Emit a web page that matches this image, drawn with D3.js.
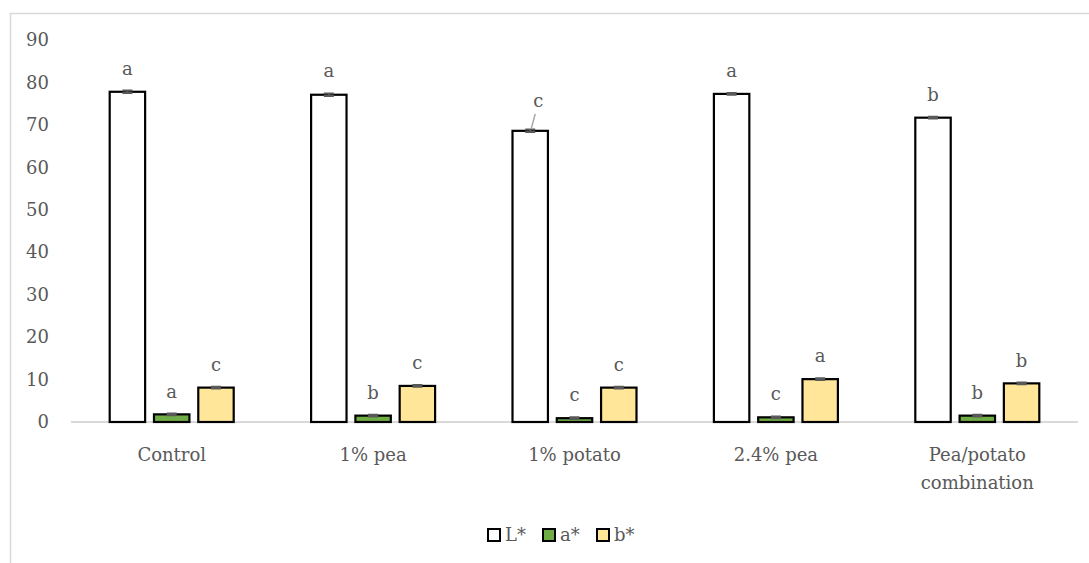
<!DOCTYPE html>
<html>
<head>
<meta charset="utf-8">
<script src="https://cdn.jsdelivr.net/npm/d3@7"></script>
<style>
  html, body { margin: 0; padding: 0; background: #fff; }
  svg { display: block; }
  text { font-family: "DejaVu Serif", "Liberation Serif", serif; fill: #595959; }
</style>
</head>
<body>
<svg id="chart" width="1089" height="563"></svg>
<script>
// Colour parameters of sausage formulations
const categories = ["Control", "1% pea", "1% potato", "2.4% pea", "Pea/potato combination"];
const series = ["L*", "a*", "b*"];
const valuesL = [77.8, 77.1, 68.6, 77.3, 71.7];
const valuesA = [1.8, 1.5, 0.9, 1.1, 1.5];
const valuesB = [8.1, 8.5, 8.1, 10.1, 9.1];
const errorsL = [0.3, 0.3, 0.3, 0.2, 0.2];
const errorsA = [0.2, 0.2, 0.2, 0.2, 0.2];
const errorsB = [0.2, 0.2, 0.2, 0.2, 0.2];
const lettersL = ["a", "a", "c", "a", "b"];
const lettersA = ["a", "b", "c", "c", "b"];
const lettersB = ["c", "c", "c", "a", "b"];
const yTicks = [0, 10, 20, 30, 40, 50, 60, 70, 80, 90];

const colors = { "L*": "#ffffff", "a*": "#70ad47", "b*": "#ffe699" };

const seriesData = {
  "L*": { values: valuesL, errors: errorsL, letters: lettersL },
  "a*": { values: valuesA, errors: errorsA, letters: lettersA },
  "b*": { values: valuesB, errors: errorsB, letters: lettersB }
};

const svg = d3.select("#chart");

// outer frame
svg.append("rect")
  .attr("x", 10.5).attr("y", 13.5)
  .attr("width", 1200).attr("height", 700)
  .attr("fill", "none").attr("stroke", "#d9d9d9").attr("stroke-width", 1.5);

const plot = { left: 71, right: 1078, top: 40, bottom: 422 };

const x0 = d3.scaleBand().domain(categories).range([plot.left, plot.right]).padding(0);
const x1 = d3.scaleBand().domain(series).range([-62, 62]).paddingInner(0.2).paddingOuter(0);
const y = d3.scaleLinear().domain([0, 90]).range([plot.bottom, plot.top]);

// y axis labels (no line, no ticks)
const yAxis = d3.axisLeft(y).tickValues(yTicks).tickSize(0).tickPadding(0);
const gy = svg.append("g").attr("transform", `translate(49,0)`).call(yAxis);
gy.select(".domain").remove();
gy.selectAll("text")
  .style("font-family", "\"DejaVu Serif\", serif")
  .style("font-size", "18px")
  .attr("fill", "#595959");

// baseline
svg.append("line")
  .attr("x1", plot.left).attr("x2", plot.right)
  .attr("y1", y(0)).attr("y2", y(0))
  .attr("stroke", "#d9d9d9").attr("stroke-width", 2);

// category labels
const cat = svg.append("g");
categories.forEach(c => {
  const cx = x0(c) + x0.bandwidth() / 2;
  const lines = c === "Pea/potato combination" ? ["Pea/potato", "combination"] : [c];
  lines.forEach((ln, i) => {
    cat.append("text")
      .attr("x", cx).attr("y", 461 + i * 28)
      .attr("text-anchor", "middle")
      .style("font-size", "18px")
      .text(ln);
  });
});

// bars, error bars and significance letters
const groups = svg.append("g");
series.forEach(s => {
  const d = seriesData[s];
  categories.forEach((c, i) => {
    const bx = x0(c) + x0.bandwidth() / 2 + x1(s);
    const bw = x1.bandwidth();
    const v = d.values[i];
    groups.append("rect")
      .attr("x", bx).attr("y", y(v))
      .attr("width", bw).attr("height", y(0) - y(v))
      .attr("fill", colors[s])
      .attr("stroke", "#000").attr("stroke-width", 2.2);

    const cx = bx + bw / 2;
    const e = d.errors[i];
    groups.append("path")
      .attr("d", `M${cx},${y(v + e)}V${y(v - e)}M${cx - 5},${y(v + e)}H${cx + 5}M${cx - 5},${y(v - e)}H${cx + 5}`)
      .attr("stroke", "#595959").attr("stroke-width", 2).attr("fill", "none");

    // 1% potato L* letter is offset with a leader line
    let lx = cx, ly = y(v + e) - 16;
    if (s === "L*" && c === "1% potato") {
      lx = cx + 8; ly = y(v) - 24;
      groups.append("line")
        .attr("x1", cx + 5).attr("y1", y(v) - 17)
        .attr("x2", cx + 1).attr("y2", y(v) - 2)
        .attr("stroke", "#a6a6a6").attr("stroke-width", 1.5);
    }
    groups.append("text")
      .attr("x", lx).attr("y", ly)
      .attr("text-anchor", "middle")
      .style("font-size", "18px")
      .text(d.letters[i]);
  });
});

// legend
const legend = svg.append("g");
const legendX = [488, 543, 597];
series.forEach((s, i) => {
  legend.append("rect")
    .attr("x", legendX[i]).attr("y", 529)
    .attr("width", 12).attr("height", 12)
    .attr("fill", colors[s])
    .attr("stroke", "#000").attr("stroke-width", 2);
  legend.append("text")
    .attr("x", legendX[i] + 17).attr("y", 541)
    .style("font-size", "18px")
    .text(s);
});
</script>
</body>
</html>
